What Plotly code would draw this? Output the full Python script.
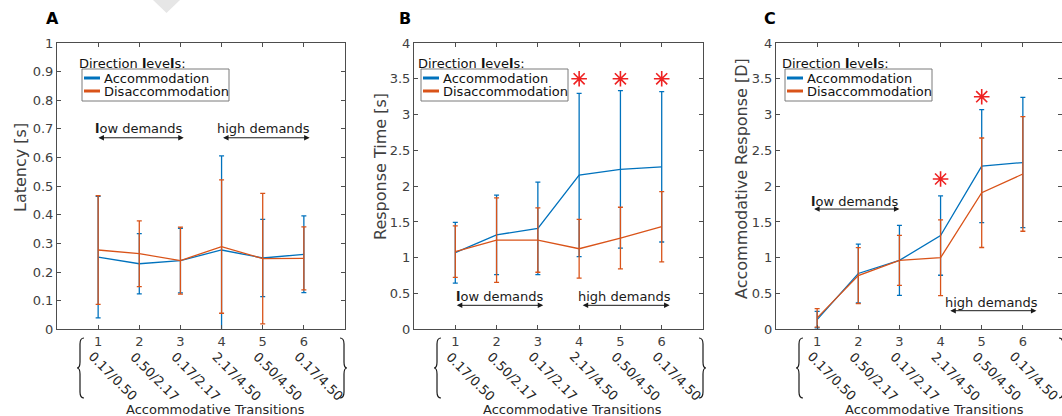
import plotly.graph_objects as go

# ---------------- data ----------------
transitions = [1, 2, 3, 4, 5, 6]
tick_text = ["1", "2", "3", "4", "5", "6"]
transition_labels = ["0.17/0.50", "0.50/2.17", "0.17/2.17", "2.17/4.50", "0.50/4.50", "0.17/4.50"]
series_names = ["Accommodation", "Disaccommodation"]

latency_acc = [0.252, 0.229, 0.240, 0.277, 0.249, 0.262]
latency_acc_err = [0.212, 0.105, 0.113, 0.329, 0.135, 0.134]
latency_dis = [0.277, 0.264, 0.240, 0.289, 0.247, 0.248]
latency_dis_err = [0.190, 0.115, 0.117, 0.233, 0.228, 0.110]

rt_acc = [1.07, 1.32, 1.41, 2.155, 2.235, 2.27]
rt_acc_err = [0.425, 0.555, 0.647, 1.14, 1.10, 1.05]
rt_dis = [1.085, 1.247, 1.247, 1.126, 1.275, 1.433]
rt_dis_err = [0.36, 0.59, 0.45, 0.41, 0.43, 0.49]

ar_acc = [0.135, 0.78, 0.963, 1.31, 2.28, 2.33]
ar_acc_err = [0.115, 0.41, 0.49, 0.555, 0.79, 0.91]
ar_dis = [0.16, 0.75, 0.963, 1.0, 1.908, 2.17]
ar_dis_err = [0.13, 0.39, 0.35, 0.53, 0.765, 0.80]

rt_sig_x = [4, 5, 6]
rt_sig_y = [3.5, 3.5, 3.5]
ar_sig_x = [4, 5]
ar_sig_y = [2.1, 3.25]

# ---------------- style ----------------
W, H = 1062, 416
FONT = "DejaVu Sans"
BLUE = "#0072BD"
ORANGE = "#D95319"
RED = "#EE2222"
AX = "#4d4d4d"
TXT = "#262626"
COLORS = [BLUE, ORANGE]


def px(x):
    return x / W


def py(y):
    return 1 - y / H


fig = go.Figure()

panels = [
    dict(xa="x", ya="y", acc=latency_acc, acc_e=latency_acc_err,
         dis=latency_dis, dis_e=latency_dis_err),
    dict(xa="x2", ya="y2", acc=rt_acc, acc_e=rt_acc_err,
         dis=rt_dis, dis_e=rt_dis_err),
    dict(xa="x3", ya="y3", acc=ar_acc, acc_e=ar_acc_err,
         dis=ar_dis, dis_e=ar_dis_err),
]

for p in panels:
    for name, vals, errs, col in [(series_names[0], p["acc"], p["acc_e"], BLUE),
                                  (series_names[1], p["dis"], p["dis_e"], ORANGE)]:
        fig.add_trace(go.Scatter(
            x=transitions, y=vals, mode="lines", name=name, xaxis=p["xa"], yaxis=p["ya"],
            line=dict(color=col, width=1.3), showlegend=False,
            error_y=dict(type="data", array=errs, visible=True, color=col,
                         thickness=1.3, width=2.5)))

# significance stars
for sx_, sy_, xa, ya in [(rt_sig_x, rt_sig_y, "x2", "y2"), (ar_sig_x, ar_sig_y, "x3", "y3")]:
    fig.add_trace(go.Scatter(x=sx_, y=sy_, mode="markers", xaxis=xa, yaxis=ya,
                             showlegend=False,
                             marker=dict(symbol="asterisk-open", size=13, color=RED,
                                         line=dict(color=RED, width=1.6))))

# ---------------- axes ----------------
ydom = [py(329.3), py(43)]
xdoms = [[px(57), px(345)], [px(414), px(703)], [px(776), 1.0]]
xranges = [[0, 7], [0, 7], [0, 7 * (1062 - 776) / (1064 - 776)]]
yranges = [[0, 1], [0, 4], [0, 4]]
ydticks = [0.1, 0.5, 0.5]

common = dict(showline=True, linecolor=AX, linewidth=1, mirror="ticks", ticks="inside",
              ticklen=4, tickcolor=AX, showgrid=False, zeroline=False, automargin=False,
              tickfont=dict(family=FONT, size=13, color="#404040"))

layout = dict(width=W, height=H, margin=dict(l=0, r=0, t=0, b=0),
              plot_bgcolor="white", paper_bgcolor="white", showlegend=False,
              font=dict(family=FONT, size=13, color=TXT))
for i in range(3):
    sx = "" if i == 0 else str(i + 1)
    layout["xaxis" + sx] = dict(common, domain=xdoms[i], range=xranges[i],
                                tickmode="array", tickvals=transitions, ticktext=tick_text,
                                anchor="y" + sx)
    layout["yaxis" + sx] = dict(common, domain=ydom, range=yranges[i], dtick=ydticks[i],
                                tick0=0, anchor="x" + sx)
fig.update_layout(**layout)

# ---------------- annotations ----------------
ann = []
letters = [("A", 52), ("B", 405), ("C", 770)]
for t, xx in letters:
    ann.append(dict(text="<b>%s</b>" % t, x=px(xx), y=py(19), xref="paper", yref="paper",
                    showarrow=False, font=dict(family=FONT, size=16, color="black"),
                    xanchor="center", yanchor="middle"))

# legend blocks (title, framed box with two entries)
title_left = [77, 416, 780]
box_left = [82, 421, 785]
box_w = 147
shapes = []
for tl, bl in zip(title_left, box_left):
    ann.append(dict(text="Direction <b>l</b>eve<b>l</b>s:", x=px(tl), y=py(63), xref="paper",
                    yref="paper", showarrow=False, xanchor="left", yanchor="middle",
                    font=dict(family=FONT, size=13, color="#111111")))
    shapes.append(dict(type="rect", x0=px(bl), x1=px(bl + box_w), y0=py(101), y1=py(69),
                       xref="paper", yref="paper", fillcolor="white",
                       line=dict(color="#7a7a7a", width=1), layer="above"))
    for k, (name, col) in enumerate(zip(series_names, COLORS)):
        yy = 78 + 13 * k
        shapes.append(dict(type="line", x0=px(bl + 2), x1=px(bl + 18), y0=py(yy), y1=py(yy),
                           xref="paper", yref="paper", line=dict(color=col, width=3),
                           layer="above"))
        ann.append(dict(text=name, x=px(bl + 20), y=py(yy), xref="paper", yref="paper",
                        showarrow=False, xanchor="left", yanchor="middle",
                        font=dict(family=FONT, size=13, color="#111111")))

ytitles = [("Latency [s]", 20, 168), ("Response Time [s]", 380, 167),
           ("Accommodative Response [D]", 741, 179)]
for t, xx, yy in ytitles:
    ann.append(dict(text=t, x=px(xx), y=py(yy), xref="paper", yref="paper", textangle=-90,
                    showarrow=False, xanchor="center", yanchor="middle",
                    font=dict(family=FONT, size=16, color="#404040")))

for i in range(3):
    sx = "" if i == 0 else str(i + 1)
    ann.append(dict(text="Accommodative Transitions", x=3.85, y=py(409), xref="x" + sx,
                    yref="paper", showarrow=False, xanchor="center", yanchor="middle",
                    font=dict(family=FONT, size=13, color=TXT)))
    for xv, lab in zip(transitions, transition_labels):
        off = 0.28 if (i == 2 and xv == 6) else 0.37
        ann.append(dict(text=lab, x=xv + off, y=py(376), xref="x" + sx, yref="paper",
                        textangle=45, showarrow=False, xanchor="center", yanchor="middle",
                        font=dict(family=FONT, size=13, color=TXT)))

# demand labels and arrows: (axis suffix, text, text x, text y, arrow x0, arrow x1, arrow y)
demands = [
    ("", "<b>l</b>ow demands", 2.0, 0.70, 0.97, 3.08, 0.669),
    ("", "high demands", 5.01, 0.70, 4.0, 6.14, 0.669),
    ("2", "<b>l</b>ow demands", 2.08, 0.455, 1.0, 3.13, 0.335),
    ("2", "high demands", 5.1, 0.455, 4.05, 6.19, 0.335),
    ("3", "<b>l</b>ow demands", 1.92, 1.79, 0.89, 3.0, 1.68),
    ("3", "high demands", 5.24, 0.38, 4.2, 6.33, 0.26),
]
for sx, t, tx, ty, a0, a1, ay in demands:
    ann.append(dict(text=t, x=tx, y=ty, xref="x" + sx, yref="y" + sx, showarrow=False,
                    xanchor="center", yanchor="middle",
                    font=dict(family=FONT, size=13, color="#1a1a1a")))
    ann.append(dict(text="", x=a1, y=ay, ax=a0, ay=ay, xref="x" + sx, yref="y" + sx,
                    axref="x" + sx, ayref="y" + sx, showarrow=True, arrowhead=2,
                    arrowside="end+start", arrowsize=1.1, arrowwidth=1,
                    arrowcolor="#1a1a1a", standoff=0, startstandoff=0))
fig.update_layout(annotations=ann)

# ---------------- decorative shapes (braces, watermark) ----------------
def P(x, y):
    return "%.5f,%.5f" % (px(x), py(y))


def left_brace(xl, top=338, bot=398):
    mid = (top + bot) / 2
    return ("M " + P(xl + 7, top) + " Q " + P(xl + 3, top) + " " + P(xl + 3, top + 6) +
            " L " + P(xl + 3, mid - 6) + " Q " + P(xl + 3, mid) + " " + P(xl, mid) +
            " Q " + P(xl + 3, mid) + " " + P(xl + 3, mid + 6) +
            " L " + P(xl + 3, bot - 6) + " Q " + P(xl + 3, bot) + " " + P(xl + 7, bot))


def right_brace(xr, top=338, bot=398):
    mid = (top + bot) / 2
    return ("M " + P(xr, top) + " Q " + P(xr + 4, top) + " " + P(xr + 4, top + 6) +
            " L " + P(xr + 4, mid - 6) + " Q " + P(xr + 4, mid) + " " + P(xr + 7, mid) +
            " Q " + P(xr + 4, mid) + " " + P(xr + 4, mid + 6) +
            " L " + P(xr + 4, bot - 6) + " Q " + P(xr + 4, bot) + " " + P(xr, bot))


for xl in [77, 434, 796]:
    shapes.append(dict(type="path", path=left_brace(xl), xref="paper", yref="paper",
                       line=dict(color="#1a1a1a", width=1.2)))
for xr in [340, 699, 1059]:
    shapes.append(dict(type="path", path=right_brace(xr), xref="paper", yref="paper",
                       line=dict(color="#1a1a1a", width=1.2)))
shapes.append(dict(type="path", path="M " + P(153, 0) + " L " + P(180, 0) + " L " +
                   P(166.5, 13) + " Z", xref="paper", yref="paper",
                   fillcolor="#e6e6e6", line=dict(width=0), layer="below"))
fig.update_layout(shapes=shapes)

fig.write_html(
    "out.html",
    config={"displayModeBar": False},
    post_script="document.body.style.margin='0px';"
                "document.body.style.overflow='hidden';"
                "document.documentElement.style.overflow='hidden';",
)
